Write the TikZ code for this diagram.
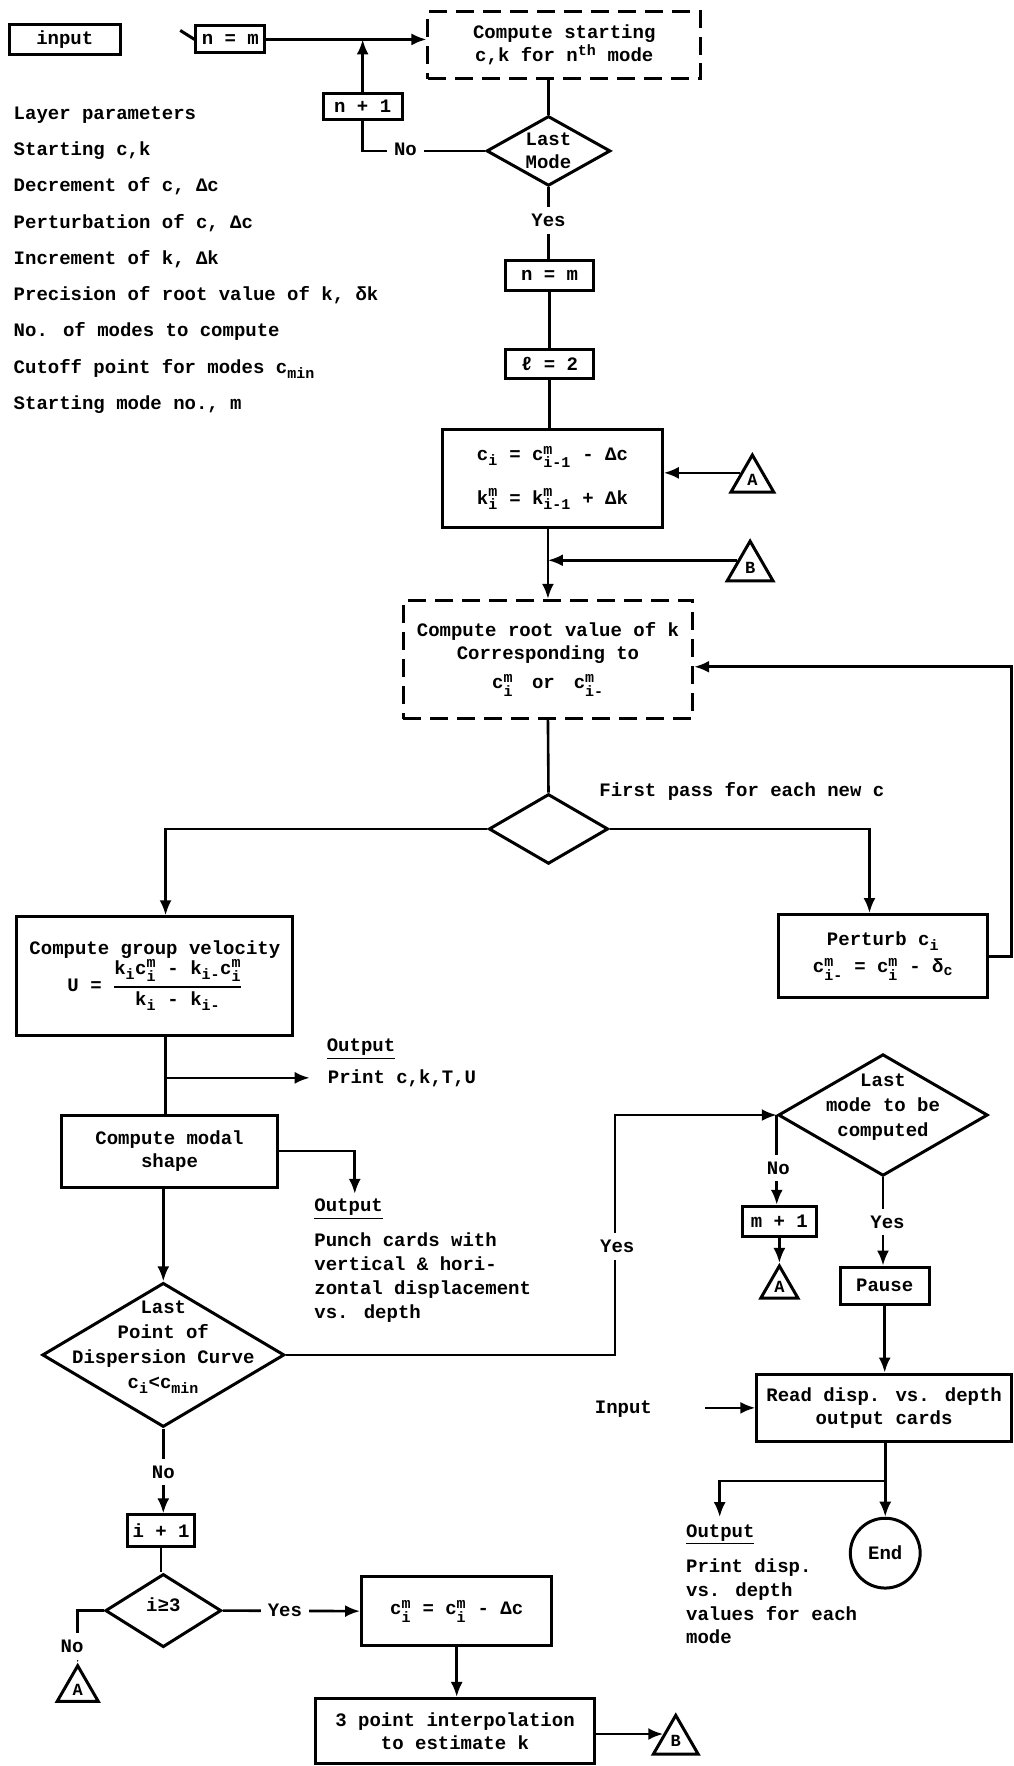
\documentclass[tikz,border=0pt]{standalone}
\usepackage{amsmath}
\usepackage{fontspec}
\setmainfont{Liberation Mono}
\DeclareMathSizes{19}{19}{15}{12}
\usetikzlibrary{arrows.meta,shapes.geometric,calc}
\newcommand\cc[3]{\ensuremath{\text{#1}^{\text{#2}}_{\text{#3}}}}
\newcommand\cb[2]{\ensuremath{\text{#1}_{\text{#2}}}}
\def\U{1.12667pt}
\begin{document}
\begin{tikzpicture}[x=1.12667pt, y=-1.12667pt,
  every node/.style={font=\fontsize{19}{23}\selectfont\bfseries, inner sep=0pt},
  box/.style={draw, line width=3pt, align=center},
  bb/.style n args={4}{minimum width={(#3-(#1))*\U}, minimum height={(#4-(#2))*\U}, at={({((#1)+(#3))/2},{((#2)+(#4))/2})}},
  dbox/.style={box, dash pattern=on 18pt off 9pt},
  ln/.style={line width=2.6pt},
  arr/.style={ln, -{Latex[length=15pt,width=12pt]}},
  dia/.style={draw, diamond, line width=3pt},
  tri/.style={draw, regular polygon, regular polygon sides=3, line width=3pt, font=\fontsize{17}{17}\selectfont\bfseries},
  lbl/.style={fill=white, inner xsep=7pt, inner ysep=7pt}]
\useasboundingbox (0,0) rectangle (900,1568);
% ---------- nodes
\node[box, bb={8}{22}{107}{48}] (inp) {input};
\node[box, bb={174}{23}{235}{47}] (nm) {n = m};
\node[dbox, bb={380}{10}{622}{70}] (cs) {Compute starting\\c,k for n\ensuremath{^{\text{th}}} mode};
\node[box, bb={287}{83}{357}{106}] (np1) {n + 1};
\node[dia, minimum width=110*\U, minimum height=62*\U] (lm) at (487,134) {};
\node[align=center] (lmt) at (lm.center) {Last\\Mode};
\foreach \t [count=\i] in {Layer parameters, {Starting c,k}, {Decrement of c, Δc}, {Perturbation of c, Δc}, {Increment of k, Δk}, {Precision of root value of k, δk}, No. of modes to compute, Cutoff point for modes \cb{c}{min}, {Starting mode no., m}}
  \node[anchor=base west] (par\i) at (12,{106+32.2*(\i-1)}) {\t};
\node[box, bb={449}{231}{527}{258}] (nm2) {n = m};
\node[box, bb={449}{310}{527}{336}] (l2) {ℓ = 2};
\node[box, bb={393}{381}{588}{468}, font=\fontsize{19}{44}\selectfont\bfseries] (f1) {\cb{c}{i} = \cc{c}{m}{i-1} - Δc\\\cc{k}{m}{i} = \cc{k}{m}{i-1} + Δk};
\node[tri, minimum size=44*\U] (A1) at (668,426) {A};
\node[tri, minimum size=47*\U] (B1) at (666,504) {B};
\node[dbox, bb={358}{533}{615}{638}] (rv) {Compute root value of k\\Corresponding to\\[6pt]\cc{c}{m}{i}\quad or\quad\cc{c}{m}{i-}};
\node[dia, minimum width=106*\U, minimum height=62*\U] (d2) at (487,736) {};
\node[anchor=base west] (fp) at (532,707) {First pass for each new c};
\node[box, bb={691}{812}{877}{886}] (pt) {Perturb \cb{c}{i}\\[4pt]\cc{c}{m}{i-} = \cc{c}{m}{i} - \cb{δ}{c}};
\node[box, bb={15}{814}{260}{919}] (gv) {Compute group velocity\\ \ensuremath{\text{U = }\genfrac{}{}{1.5pt}{0}{\cb{k}{i}\cc{c}{m}{i}\text{ - }\cb{k}{i-}\cc{c}{m}{i}}{\cb{k}{i}\text{ - }\cb{k}{i-}}}};
\node[anchor=base west] (out1) at (290,934) {\underline{Output}};
\node[anchor=base west] (prt) at (291,962) {Print c,k,T,U};
\node[box, bb={55}{990}{246}{1054}] (ms) {Compute modal\\shape};
\node[anchor=base west] (out2) at (279,1076) {\underline{Output}};
\node[anchor=north west, align=left, font=\fontsize{19}{24}\selectfont\bfseries] (pc) at (279,1094) {Punch cards with\\vertical \& hori-\\zontal displacement\\vs. depth};
\node[dia, minimum width=215*\U, minimum height=128*\U] (d3) at (145,1203) {};
\node[align=center, font=\fontsize{19}{24.8}\selectfont\bfseries] (d3t) at (145,1196) {Last\\Point of\\Dispersion Curve\\\cb{c}{i}<\cb{c}{min}};
\node[dia, minimum width=186*\U, minimum height=108*\U] (lm2) at (784,990) {};
\node[align=center, font=\fontsize{19}{24.8}\selectfont\bfseries] (lm2t) at (784,983) {Last\\mode to be\\computed};
\node[box, bb={659}{1071}{725}{1098}] (mp1) {m + 1};
\node[tri, minimum size=38*\U] (A2) at (692,1143) {A};
\node[box, bb={746}{1125}{825}{1158}] (pause) {Pause};
\node[box, bb={672}{1220}{898}{1280}] (rd) {Read disp. vs. depth\\output cards};
\node[anchor=base west] (inp2) at (528,1255) {Input};
\node[draw, circle, line width=3pt, minimum size=62*\U] (end) at (786,1379) {End};
\node[anchor=base west] (out3) at (609,1365) {\underline{Output}};
\node[anchor=north west, align=left, font=\fontsize{19}{23.7}\selectfont\bfseries] (pd) at (609,1384) {Print disp.\\vs. depth\\values for each\\mode};
\node[box, bb={113}{1345}{173}{1373}] (ip1) {i + 1};
\node[dia, minimum width=103*\U, minimum height=65*\U] (d4) at (145,1430) {};
\node (d4t) at (145,1425) {i≥3};
\node[tri, minimum size=42*\U] (A3) at (69,1500) {A};
\node[box, bb={321}{1400}{490}{1461}] (cd) {\cc{c}{m}{i} = \cc{c}{m}{i} - Δc};
\node[box, bb={280}{1508}{528}{1566}] (tp) {3 point interpolation\\to estimate k};
\node[tri, minimum size=46*\U] (B2) at (600,1546) {B};
% ---------- connectors
\coordinate (tk) at (160,27);
\draw[line width=3pt] (tk) -- (nm.west);
\draw[arr] (nm.east) -- (nm.east -| cs.west);
\draw[arr] (np1.north) -- (np1.north |- nm.east);
\draw[ln] (lm.west) -| (np1.south);
\draw[ln] (lm.north |- cs.south) -- (lm.north);
\draw[ln] (lm.south) -- (lm.south |- nm2.north);
\draw[ln] (nm2.south) -- (nm2.south |- l2.north);
\draw[ln] (l2.south) -- (l2.south |- f1.north);
\draw[arr] (A1.side 1) -- (A1.side 1 -| f1.east);
\draw[arr] (rv.north |- f1.south) -- (rv.north);
\draw[arr] (B1.side 1) -- (B1.side 1 -| rv.north);
\coordinate (rc) at (898,592);
\draw[arr] (pt.east) -| (rc) -- (rc -| rv.east);
\draw[ln] (rv.south) -- (d2.north);
\coordinate (pa) at (772,736);
\draw[arr] (d2.east) -- (pa) -- (pa |- pt.north);
\coordinate (ga) at (147,736);
\draw[arr] (d2.west) -- (ga) -- (ga |- gv.north);
\draw[ln] (ga |- gv.south) -- (ga |- ms.north);
\coordinate (pb) at (147,957);
\coordinate (pe) at (275,957);
\draw[arr] (pb) -- (pe);
\coordinate (po) at (315,1060);
\draw[arr] (ms.east) -| (po);
\draw[arr] (d3.north |- ms.south) -- (d3.north);
\coordinate (ya) at (546,990);
\draw[arr] (d3.east) -| (ya) -- (lm2.west);
\draw[arr] (lm2.west) -- (lm2.west |- mp1.north);
\draw[arr] (mp1.south) -- (A2.corner 1);
\draw[arr] (lm2.south) -- (lm2.south |- pause.north);
\draw[arr] (pause.south) -- (pause.south |- rd.north);
\coordinate (ia) at (626,1250);
\draw[arr] (ia) -- (ia -| rd.west);
\draw[arr] (rd.south -| end.north) -- (end.north);
\coordinate (eb) at (786,1315);
\coordinate (eo) at (639,1347);
\draw[arr] (eb) -| (eo);
\draw[arr] (d3.south) -- (d3.south |- ip1.north);
\draw[ln] (ip1.south) -- (ip1.south |- d4.north);
\draw[arr] (d4.west) -| (A3.corner 1);
\draw[arr] (d4.east) -- (cd.west);
\draw[arr] (cd.south) -- (cd.south |- tp.north);
\draw[arr] (tp.east |- B2.side 1) -- (B2.side 1);
% ---------- labels on connectors
\node[lbl] (no1) at (360,133) {No};
\node[lbl] (yes1) at (487,196) {Yes};
\node[lbl] (yes2) at (548,1107) {Yes};
\node[lbl] (no2) at (691,1037) {No};
\node[lbl] (yes3) at (788,1085) {Yes};
\node[lbl] (no3) at (145,1307) {No};
\node[lbl] (no4) at (64,1462) {No};
\node[lbl] (yes4) at (253,1430) {Yes};
\end{tikzpicture}
\end{document}
